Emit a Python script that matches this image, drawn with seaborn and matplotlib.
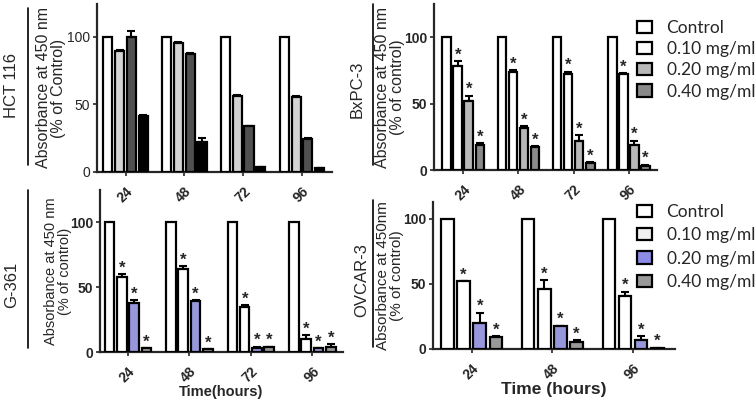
import numpy as np
import pandas as pd
import matplotlib.pyplot as plt
import seaborn as sns
from matplotlib.patches import Patch
from matplotlib.lines import Line2D
from matplotlib.container import BarContainer

sns.set_style("ticks")
plt.rcParams["font.family"] = ["Liberation Sans", "DejaVu Sans"]

# ---------------------------
# Data
# ---------------------------
doses = ["Control", "0.10 mg/ml", "0.20 mg/ml", "0.40 mg/ml"]

hct_times = ["24", "48", "72", "96"]
hct_mean = [[100, 89, 100, 41], [100, 95, 87, 22], [100, 56, 34, 4], [100, 55, 24, 3]]
hct_err = [[0, 1, 4, 1], [0, 1, 1, 3], [0, 1, 0, 0], [0, 1, 1, 0]]

bx_times = ["24", "48", "72", "96"]
bx_mean = [[100, 78, 52, 19], [100, 74, 32, 17], [100, 72, 22, 5], [100, 72, 19, 3]]
bx_err = [[0, 4, 4, 1], [0, 1, 1, 1], [0, 2, 4, 1], [0, 1, 3, 1]]

g_times = ["24", "48", "72", "96"]
g_mean = [[100, 58, 38, 3], [100, 64, 39, 2], [100, 35, 3, 4], [100, 10, 3, 4]]
g_err = [[0, 2, 2, 0], [0, 2, 1, 0], [0, 1, 1, 0], [0, 3, 0, 2]]

ov_times = ["24", "48", "96"]
ov_mean = [[100, 52, 20, 9], [100, 46, 18, 5], [100, 41, 7, 1]]
ov_err = [[0, 0, 8, 1], [0, 7, 0, 2], [0, 3, 3, 0]]

hct_colors = ["white", "#d4d4d4", "#505050", "#000000"]
bx_colors = ["white", "white", "#b8b8b8", "#8a8a8a"]
g_colors = ["white", "white", "#8c8ce6", "#999999"]
top_leg_colors = ["white", "white", "#b8b8b8", "#8a8a8a"]
bot_leg_colors = ["white", "#f0f0f0", "#8c8ce6", "#999999"]

W, H = 756, 401
fig = plt.figure(figsize=(W / 100, H / 100), dpi=100)


def px_axes(left, top, right, bottom):
    ax = fig.add_axes([left / W, 1 - bottom / H, (right - left) / W, (bottom - top) / H])
    ax.patch.set_visible(False)
    return ax


def draw_panel(ax, times, mean, err, colors, xlim, ylim, stars, bold, ylabel, ysize, ylab_px):
    df = pd.DataFrame([(t, d, mean[i][j]) for i, t in enumerate(times) for j, d in enumerate(doses)],
                      columns=["time", "dose", "value"])
    sns.barplot(data=df, x="time", y="value", hue="dose", hue_order=doses, order=times,
                palette=colors, edgecolor="black", linewidth=1.6, gap=0.22, width=0.8,
                errorbar=None, legend=False, ax=ax, zorder=3)
    bars = [c for c in ax.containers if isinstance(c, BarContainer)]
    for j, cont in enumerate(bars):
        if j == 0:
            continue
        xs = np.array([b.get_x() + b.get_width() / 2 for b in cont])
        ys = np.array([mean[i][j] for i in range(len(times))])
        es = np.array([err[i][j] for i in range(len(times))])
        ax.errorbar(xs, ys, yerr=[np.zeros_like(es), es], fmt="none", ecolor="black",
                    elinewidth=1.5, capsize=3, capthick=1.5, zorder=2)
        if stars:
            for x, y, e in zip(xs, ys, es):
                ax.annotate("*", (x, y + e), xytext=(0, -1), textcoords="offset points",
                            ha="center", va="bottom", fontsize=12, fontweight="bold")
    ax.set_xlim(*xlim)
    ax.set_ylim(0, ylim)
    ax.set_yticks([0, 50, 100])
    w = "bold" if bold else "normal"
    ax.set_yticklabels(["0", "50", "100"], fontsize=10, fontweight=w)
    ax.set_xticks(range(len(times)))
    ax.set_xticklabels(times, rotation=45, ha="right", rotation_mode="anchor",
                       fontsize=10, fontweight="bold")
    ax.tick_params(axis="y", length=3, width=1.2, pad=2)
    ax.tick_params(axis="x", length=3, width=1.2, pad=6)
    for s in ["left", "bottom"]:
        ax.spines[s].set_linewidth(1.6)
    sns.despine(ax=ax)
    ax.set_xlabel("")
    ax.set_ylabel(ylabel, fontsize=ysize, linespacing=1.0)
    bb = ax.get_position()
    ax.yaxis.set_label_coords(ylab_px / (bb.width * W), 0.5)


ax1 = px_axes(97, 4, 332, 172)
draw_panel(ax1, hct_times, hct_mean, hct_err, hct_colors, (-0.485, 3.51), 124, False, False,
           "Absorbance at 450 nm\n(% of Control)", 11.5, -31)

ax2 = px_axes(434, 4, 657, 170)
draw_panel(ax2, bx_times, bx_mean, bx_err, bx_colors, (-0.53, 3.51), 125, True, True,
           "Absorbance at 450 nm\n(% of control)", 11.5, -29)

ax3 = px_axes(100, 190, 343, 352)
draw_panel(ax3, g_times, g_mean, g_err, g_colors, (-0.455, 3.5), 125, True, True,
           "Absorbance at 450 nm\n(% of control)", 10.5, -28)
ax3.set_xlabel("Time(hours)", fontsize=10.5, fontweight="bold", labelpad=0)

ax4 = px_axes(433, 202, 675, 349)
draw_panel(ax4, ov_times, ov_mean, ov_err, g_colors, (-0.48, 2.52), 113, True, True,
           "Absorbance at 450nm\n(% of control)", 11, -29)
ax4.set_xlabel("Time (hours)", fontsize=12.5, fontweight="bold", labelpad=0)

# cell line labels with bracket lines
for name, x_txt, y_txt, x_ln, y0, y1 in [("HCT 116", 12, 85, 28, 8, 165),
                                         ("G-361", 12, 285, 28, 190, 348),
                                         ("BxPC-3", 357, 89, 373, 4, 165),
                                         ("OVCAR-3", 362, 280, 373, 200, 347)]:
    fig.text(x_txt / W, 1 - y_txt / H, name, rotation=90, ha="center", va="center", fontsize=12)
    fig.add_artist(Line2D([x_ln / W, x_ln / W], [1 - y0 / H, 1 - y1 / H], color="black", lw=1.2))

# legends
for cols, ytop, spacing in [(top_leg_colors, 20, 0.3), (bot_leg_colors, 204, 0.42)]:
    handles = [Patch(facecolor=c, edgecolor="black", linewidth=1.6) for c in cols]
    fig.legend(handles, doses, loc="upper left", bbox_to_anchor=(637 / W, 1 - ytop / H),
               frameon=False, handlelength=0.85, handleheight=0.7, handletextpad=0.85,
               labelspacing=spacing, borderaxespad=0, borderpad=0,
               prop={"family": "Lato", "size": 12.5})

fig.savefig("out.png", dpi=100)
